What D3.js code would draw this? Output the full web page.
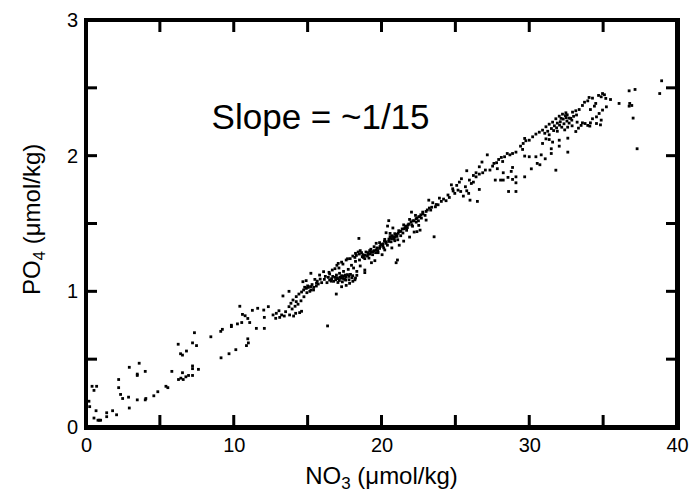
<!DOCTYPE html>
<html>
<head>
<meta charset="utf-8">
<script src="https://cdn.jsdelivr.net/npm/d3@7"></script>
<style>
  body { margin: 0; background: #fff; }
  svg { display: block; }
  .tick text { font-family: "Liberation Sans", Arial, sans-serif; font-size: 20px; fill: #000; }
</style>
</head>
<body>
<div id="chart"></div>
<script>
// PO4 vs NO3 scatter
// low end (sparse, NO3 < 12)
const lowPoints = [
  [10.41, 0.89], [10.59, 0.83], [10.77, 0.82], [10.95, 0.80], [11.08, 0.77], [10.54, 0.77],
  [11.26, 0.86], [10.25, 0.76], [9.84, 0.75], [9.84, 0.74], [9.23, 0.72], [9.12, 0.705],
  [8.45, 0.665], [7.34, 0.695], [7.21, 0.62], [7.48, 0.60], [6.24, 0.61], [6.40, 0.54],
  [6.53, 0.53], [6.80, 0.56], [10.95, 0.65], [10.99, 0.62], [10.86, 0.60], [10.14, 0.57],
  [9.68, 0.54], [9.14, 0.51], [7.21, 0.45], [7.21, 0.43], [7.61, 0.425], [6.53, 0.40],
  [6.26, 0.35], [6.42, 0.36], [6.58, 0.35], [6.76, 0.37], [6.94, 0.38], [7.21, 0.38],
  [5.81, 0.41], [5.41, 0.30], [5.54, 0.29], [4.86, 0.26], [4.59, 0.23], [4.05, 0.21],
  [4.01, 0.20], [3.47, 0.20], [2.93, 0.14], [2.88, 0.22], [2.48, 0.21], [2.34, 0.24],
  [2.21, 0.29], [2.21, 0.35], [2.93, 0.44], [3.60, 0.47], [3.47, 0.39], [3.47, 0.38],
  [4.01, 0.41], [0.41, 0.30], [0.54, 0.27], [0.72, 0.30], [0.68, 0.12], [0.90, 0.05],
  [0.81, 0.05], [0.99, 0.05], [1.40, 0.105], [1.40, 0.076], [1.80, 0.12], [2.07, 0.09],
  [0.54, 0.066], [0.25, 0.15], [0.2, 0.19]
];

// middle band (NO3 12 - 21)
const midPoints = [
  [11.62, 0.875], [12.03, 0.862], [12.07, 0.808], [12.34, 0.887], [11.53, 0.727], [12.07, 0.727],
  [16.35, 0.745], [12.66, 0.826], [12.88, 0.838], [13.06, 0.857], [12.84, 0.801], [13.11, 0.808],
  [13.24, 0.826], [13.42, 0.818], [13.51, 0.850], [13.78, 0.826], [14.05, 0.818], [14.19, 0.838],
  [14.46, 0.843], [14.59, 0.853], [13.74, 0.887], [13.87, 0.912], [14.01, 0.936], [14.23, 0.961],
  [14.41, 0.980], [14.59, 0.995], [14.73, 1.010], [14.91, 1.022], [15.04, 1.029], [15.22, 1.010],
  [15.41, 1.029], [15.59, 1.039], [15.72, 1.054], [14.23, 0.924], [13.33, 0.966], [13.74, 1.000],
  [14.68, 1.071], [14.90, 1.079], [15.22, 1.133], [15.49, 1.088], [15.81, 1.120], [15.95, 1.064],
  [16.13, 1.088], [16.40, 1.103], [16.62, 1.093], [16.85, 1.103], [17.07, 1.093], [17.25, 1.098],
  [17.48, 1.113], [17.70, 1.123], [17.57, 1.083], [17.84, 1.059], [18.06, 1.074], [18.24, 1.098],
  [18.33, 1.118], [16.94, 0.980], [17.30, 1.034], [17.61, 1.044], [16.49, 1.128], [16.67, 1.157],
  [16.98, 1.192], [17.07, 1.206], [17.12, 1.172], [16.85, 1.167], [16.08, 1.145], [17.39, 1.201],
  [17.61, 1.231], [17.88, 1.241], [18.06, 1.260], [18.24, 1.280], [18.42, 1.290], [18.56, 1.300],
  [18.74, 1.270], [18.87, 1.241], [19.05, 1.260], [19.23, 1.275], [19.41, 1.292], [19.64, 1.305],
  [19.87, 1.317], [20.09, 1.334], [20.31, 1.354], [20.49, 1.368], [20.68, 1.388], [20.81, 1.403],
  [20.99, 1.418], [21.13, 1.427], [21.17, 1.447], [18.47, 1.390], [19.64, 1.354], [19.77, 1.285],
  [20.04, 1.270], [20.22, 1.305], [20.90, 1.373], [20.77, 1.467], [20.41, 1.481], [20.49, 1.521],
  [20.31, 1.432], [20.58, 1.427], [20.99, 1.211], [21.08, 1.231], [18.87, 1.157], [18.87, 1.138],
  [18.56, 1.187], [19.32, 1.211], [19.55, 1.226], [18.11, 1.172], [18.33, 1.147], [16.31, 1.064],
  [16.49, 1.083], [16.76, 1.074], [17.16, 1.133], [17.43, 1.147], [17.75, 1.162], [17.97, 1.192],
  [18.24, 1.221], [18.51, 1.231], [18.78, 1.250], [19.10, 1.285], [19.28, 1.310], [19.50, 1.329],
  [19.87, 1.359], [20.22, 1.383], [20.58, 1.403],
  // dense clumps
  [16.9, 1.085], [17.0, 1.100], [17.2, 1.105], [17.4, 1.095], [17.6, 1.105], [17.8, 1.110],
  [17.3, 1.115], [17.5, 1.090], [17.9, 1.125], [18.0, 1.100], [18.7, 1.255], [18.9, 1.265],
  [19.1, 1.275], [19.3, 1.290], [19.5, 1.300], [19.7, 1.320], [19.9, 1.330], [19.2, 1.300],
  [19.6, 1.285], [20.1, 1.350], [20.3, 1.365], [20.5, 1.385], [20.7, 1.410], [20.9, 1.425],
  [20.6, 1.395], [20.2, 1.370], [15.0, 1.040], [15.3, 1.050], [15.6, 1.060], [15.2, 1.035],
  [14.8, 1.030], [17.3, 1.215], [17.7, 1.240], [18.2, 1.250],
  [16.7, 1.110], [16.95, 1.120], [17.15, 1.080], [17.35, 1.070], [17.55, 1.120], [17.8, 1.085],
  [18.05, 1.115], [18.2, 1.085], [17.05, 1.065], [16.6, 1.075], [18.3, 1.265], [18.5, 1.275],
  [18.65, 1.285], [18.95, 1.290], [19.15, 1.245], [19.4, 1.270], [19.75, 1.300], [19.95, 1.345],
  [20.15, 1.320], [20.4, 1.340], [20.65, 1.365], [20.85, 1.385], [21.05, 1.405], [21.1, 1.380],
  [14.35, 0.905], [14.55, 0.930], [14.75, 0.960], [14.95, 0.990], [15.15, 1.000], [15.4, 1.010],
  [13.95, 0.870], [14.15, 0.890], [15.65, 1.075], [15.85, 1.090], [16.2, 1.110], [16.45, 1.140]
];

// upper band (NO3 > 21)
const highPoints = [
  [29.69, 2.127], [29.77, 2.110], [29.59, 2.090], [29.41, 2.070], [29.55, 2.046], [29.69, 1.997],
  [29.10, 2.026], [28.87, 2.016], [28.69, 2.006], [28.51, 2.016], [28.33, 1.992], [28.11, 1.987],
  [27.93, 1.972], [28.20, 1.957], [27.79, 1.948], [27.61, 1.943], [27.52, 1.923], [27.34, 1.894],
  [27.16, 2.006], [26.80, 1.953], [26.62, 1.918], [27.03, 1.894], [26.85, 1.874], [26.62, 1.864],
  [26.40, 1.874], [26.22, 1.854], [25.77, 1.889], [25.95, 1.820], [26.08, 1.795], [26.22, 1.805],
  [26.40, 1.844], [25.41, 1.830], [25.27, 1.805], [25.09, 1.781], [25.18, 1.746], [25.36, 1.736],
  [24.96, 1.722], [24.73, 1.785], [24.82, 1.756], [25.68, 1.771], [25.77, 1.741], [25.90, 1.722],
  [25.54, 1.702], [26.62, 1.751], [25.99, 1.672], [26.49, 1.663], [24.59, 1.692], [24.37, 1.668],
  [24.05, 1.663], [23.92, 1.687], [23.83, 1.638], [23.65, 1.623], [23.47, 1.653], [23.24, 1.614],
  [23.33, 1.599], [23.20, 1.672], [23.02, 1.589], [22.79, 1.584], [22.66, 1.564], [22.52, 1.550],
  [22.34, 1.535], [22.12, 1.520], [22.03, 1.584], [21.85, 1.496], [21.67, 1.481], [21.53, 1.461],
  [21.31, 1.442], [22.52, 1.486], [22.21, 1.437], [23.56, 1.402], [22.61, 1.451], [23.02, 1.525],
  [28.60, 1.736], [29.10, 1.736], [28.56, 1.840], [28.87, 1.825], [29.10, 1.844], [29.10, 1.800],
  [29.69, 1.844], [28.24, 1.820], [28.87, 1.913], [28.78, 1.884], [28.24, 1.874], [27.84, 1.904],
  [27.70, 1.820], [28.06, 1.820],
  [21.0, 1.42], [21.2, 1.44], [21.4, 1.46], [21.6, 1.47], [21.8, 1.49], [22.0, 1.51],
  [22.2, 1.52], [22.4, 1.54], [22.6, 1.55], [22.8, 1.57], [21.3, 1.41], [21.7, 1.45],
  [22.1, 1.48], [22.5, 1.52], [20.9, 1.40], [21.5, 1.49], [21.9, 1.53], [22.3, 1.56],
  [21.2, 1.34], [21.5, 1.37], [21.9, 1.40], [22.4, 1.44], [20.7, 1.32],
  [21.45, 1.43], [21.75, 1.47], [22.05, 1.49], [22.35, 1.51], [22.7, 1.54], [22.95, 1.56],
  [23.1, 1.60], [23.4, 1.62], [23.7, 1.64], [24.2, 1.68], [24.5, 1.71], [24.85, 1.74],
  [34.96, 2.458], [35.09, 2.449], [34.87, 2.434], [34.69, 2.444], [35.18, 2.422], [35.50, 2.414],
  [36.08, 2.385], [36.76, 2.478], [37.16, 2.488], [38.96, 2.552], [38.83, 2.458], [36.80, 2.385],
  [36.94, 2.370], [36.76, 2.365], [37.03, 2.277], [37.30, 2.051], [35.22, 2.360], [34.96, 2.336],
  [34.73, 2.311], [34.55, 2.286], [34.28, 2.272], [34.14, 2.242], [33.96, 2.223], [33.78, 2.237],
  [33.51, 2.223], [33.33, 2.203], [33.15, 2.178], [32.88, 2.262], [32.70, 2.277], [32.57, 2.301],
  [32.48, 2.316], [32.25, 2.306], [32.03, 2.291], [31.80, 2.272], [31.58, 2.247], [31.35, 2.232],
  [31.13, 2.213], [30.90, 2.188], [30.68, 2.173], [30.45, 2.159], [30.23, 2.139], [30.00, 2.114],
  [34.28, 2.424], [34.05, 2.429], [33.96, 2.404], [33.74, 2.394], [33.60, 2.370], [33.38, 2.340],
  [33.15, 2.331], [32.93, 2.321], [34.14, 2.340], [34.41, 2.365], [34.50, 2.385], [34.55, 2.237],
  [34.87, 2.262], [34.82, 2.227], [34.10, 2.218], [33.60, 2.242], [33.24, 2.247], [32.61, 2.129],
  [32.03, 2.114], [32.03, 2.070], [31.49, 2.051], [31.49, 2.016], [31.08, 1.977], [30.81, 2.006],
  [30.45, 1.992], [30.54, 1.943], [30.72, 1.933], [30.14, 1.903], [31.80, 1.893], [32.61, 2.026],
  [31.35, 2.119], [31.58, 2.100], [31.13, 2.124], [30.00, 1.992], [30.90, 2.090], [31.35, 2.154],
  [31.5, 2.20], [31.7, 2.22], [31.9, 2.24], [32.1, 2.25], [32.3, 2.27], [32.5, 2.28],
  [32.7, 2.24], [32.9, 2.22], [32.2, 2.21], [31.9, 2.18], [32.4, 2.19], [32.6, 2.21],
  [31.65, 2.185], [31.85, 2.205], [32.05, 2.225], [32.35, 2.235], [32.55, 2.255], [32.8, 2.275],
  [33.0, 2.290], [33.2, 2.300], [32.15, 2.275], [32.45, 2.295], [31.25, 2.180], [31.05, 2.165]
];

const xTicks = [5, 10, 15, 20, 25, 30, 35];
const yTicks = [0.5, 1, 1.5, 2, 2.5];
const xLabels = [0, 10, 20, 30, 40];
const yLabels = [0, 1, 2, 3];

const width = 689;
const height = 495;

const svg = d3
  .select("#chart")
  .append("svg")
  .attr("width", width)
  .attr("height", height);

const x = d3.scaleLinear().domain([0, 40]).range([86, 677]);
const y = d3.scaleLinear().domain([0, 3]).range([427, 20]);

// frame: heavy black box
svg
  .append("rect")
  .attr("x", x(0))
  .attr("y", y(3))
  .attr("width", x(40) - x(0))
  .attr("height", y(0) - y(3))
  .attr("fill", "none")
  .attr("stroke", "#000")
  .attr("stroke-width", 4);

// heavier bottom and right edges
svg.append("rect")
  .attr("x", x(0) - 2).attr("y", y(0) - 1)
  .attr("width", x(40) - x(0) + 5).attr("height", 4).attr("fill", "#000");
svg.append("rect")
  .attr("x", x(40) - 1).attr("y", y(3) - 2)
  .attr("width", 4).attr("height", y(0) - y(3) + 5).attr("fill", "#000");

// inward tick marks on all four sides
svg.selectAll(".tb").data(xTicks).enter().append("rect")
  .attr("class", "tb")
  .attr("x", (d) => x(d) - 1.5).attr("y", y(0) - 12)
  .attr("width", 3).attr("height", 12).attr("fill", "#000");

svg.selectAll(".tt").data(xTicks).enter().append("rect")
  .attr("class", "tt")
  .attr("x", (d) => x(d) - 1.5).attr("y", y(3))
  .attr("width", 3).attr("height", 12).attr("fill", "#000");

svg.selectAll(".tl").data(yTicks).enter().append("rect")
  .attr("class", "tl")
  .attr("x", x(0)).attr("y", (d) => y(d) - 1.5)
  .attr("width", 11).attr("height", 3).attr("fill", "#000");

svg.selectAll(".tr").data(yTicks).enter().append("rect")
  .attr("class", "tr")
  .attr("x", x(40) - 11).attr("y", (d) => y(d) - 1.5)
  .attr("width", 11).attr("height", 3).attr("fill", "#000");

// tick labels through the axis generators
svg
  .append("g")
  .attr("transform", `translate(0, ${y(0)})`)
  .call(d3.axisBottom(x).tickValues(xLabels).tickSize(0).tickPadding(11).tickFormat(d3.format("d")))
  .call((g) => g.select(".domain").remove());

svg
  .append("g")
  .attr("transform", `translate(${x(0)}, 0)`)
  .call(d3.axisLeft(y).tickValues(yLabels).tickSize(0).tickPadding(8).tickFormat(d3.format("d")))
  .call((g) => g.select(".domain").remove());

// scatter points
const allPoints = lowPoints.concat(midPoints, highPoints);
svg
  .selectAll(".dot")
  .data(allPoints)
  .enter()
  .append("rect")
  .attr("class", "dot")
  .attr("x", (d) => x(d[0]) - 1.4)
  .attr("y", (d) => y(d[1]) - 1.4)
  .attr("width", 2.8)
  .attr("height", 2.8)
  .attr("fill", "#000");

// annotation
svg
  .append("text")
  .attr("x", x(8.5))
  .attr("y", y(2.2))
  .attr("font-family", "Liberation Sans, Arial, sans-serif")
  .attr("font-size", 35)
  .text("Slope = ~1/15");

// axis titles
const xTitle = svg
  .append("text")
  .attr("x", (x(0) + x(40)) / 2)
  .attr("y", 484)
  .attr("text-anchor", "middle")
  .attr("font-family", "Liberation Sans, Arial, sans-serif")
  .attr("font-size", 24);
xTitle.append("tspan").text("NO");
xTitle.append("tspan").attr("font-size", 17).attr("dy", 5).text("3");
xTitle.append("tspan").attr("dy", -5).text(" (\u03bcmol/kg)");

const yTitle = svg
  .append("text")
  .attr("transform", `translate(40, ${y(1.53)}) rotate(-90)`)
  .attr("text-anchor", "middle")
  .attr("font-family", "Liberation Sans, Arial, sans-serif")
  .attr("font-size", 24);
yTitle.append("tspan").text("PO");
yTitle.append("tspan").attr("font-size", 17).attr("dy", 5).text("4");
yTitle.append("tspan").attr("dy", -5).text(" (\u03bcmol/kg)");
</script>
</body>
</html>
